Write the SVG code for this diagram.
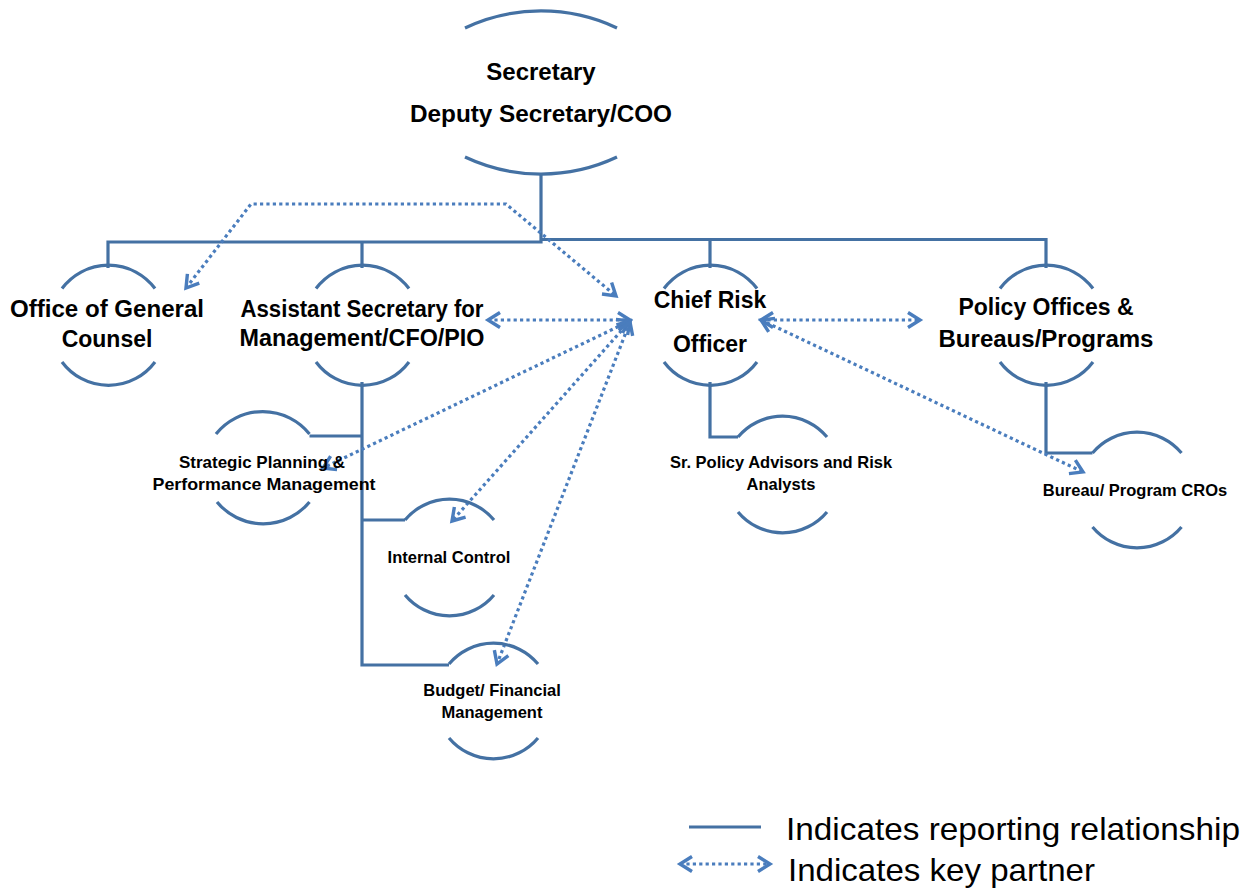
<svg xmlns="http://www.w3.org/2000/svg" width="1247" height="892" viewBox="0 0 1247 892">
<style>
.arc{fill:none;stroke:#4471a3;stroke-width:3.2}
.rep{fill:none;stroke:#4471a3;stroke-width:3.2;stroke-linejoin:miter}
.kp{fill:none;stroke:#4a7dbd;stroke-width:3.2;stroke-dasharray:3.2 3.2;marker-start:url(#ah);marker-end:url(#ah)}
.t1{font-family:"Liberation Sans",Arial,sans-serif;font-weight:bold;font-size:23px;fill:#000;text-anchor:middle}
.t0{font-family:"Liberation Sans",Arial,sans-serif;font-weight:bold;font-size:24px;fill:#000;text-anchor:middle}
.t2{font-family:"Liberation Sans",Arial,sans-serif;font-weight:bold;font-size:16.5px;fill:#000;text-anchor:middle}
.lg{font-family:"Liberation Sans",Arial,sans-serif;font-size:32px;fill:#000}
</style>
<defs>
<marker id="ah" markerUnits="userSpaceOnUse" viewBox="-16 -10 18 20" markerWidth="18" markerHeight="20" refX="0" refY="0" orient="auto-start-reverse" overflow="visible">
<path d="M-12,-7.5 L0,0 L-12,7.5" fill="none" stroke="#4a7dbd" stroke-width="3.4" stroke-dasharray="none"/>
</marker>
</defs>
<rect width="1247" height="892" fill="#fff"/>

<g id="connectors">
<path class="rep" d="M108,268 V242 H541 V175"/>
<path class="rep" d="M362,242 V268"/>
<path class="rep" d="M541,239.5 H1046 V268"/>
<path class="rep" d="M710,239.5 V268"/>
<path class="rep" d="M362,382 V665 H449"/>
<path class="rep" d="M362,436 H309.5"/>
<path class="rep" d="M362,520 H405"/>
<path class="rep" d="M710,382 V437 H738"/>
<path class="rep" d="M1046,382 V453 H1092.5"/>
<path class="kp" d="M186,288 L251,204 H506 L616,296"/>
<path class="kp" d="M488,320 H630"/>
<path class="kp" d="M630,321 L323,468"/>
<path class="kp" d="M630,321 L452,521"/>
<path class="kp" d="M630,322 L497,664"/>
<path class="kp" d="M761,320 H920"/>
<path class="kp" d="M761,320 L1083,472"/>
</g>

<g id="secretary">
<path class="arc" d="M465,28 A178,178 0 0 1 617,28"/>
<path class="arc" d="M465,157 A178,178 0 0 0 617,157"/>
<text class="t0" x="541" y="80">Secretary</text>
<text class="t0" x="541" y="122" textLength="262" lengthAdjust="spacingAndGlyphs">Deputy Secretary/COO</text>
</g>

<g id="ogc">
<path class="arc" d="M62,288.5 A58,58 0 0 1 155,288.5"/>
<path class="arc" d="M62,362 A58,58 0 0 0 155,362"/>
<text class="t1" x="107" y="317" textLength="194" lengthAdjust="spacingAndGlyphs">Office of General</text>
<text class="t1" x="107" y="347">Counsel</text>
</g>

<g id="asst">
<path class="arc" d="M316,288.5 A58,58 0 0 1 409,288.5"/>
<path class="arc" d="M316,362 A58,58 0 0 0 409,362"/>
<text class="t1" x="362" y="317" textLength="243" lengthAdjust="spacingAndGlyphs">Assistant Secretary for</text>
<text class="t1" x="362" y="346" textLength="245" lengthAdjust="spacingAndGlyphs">Management/CFO/PIO</text>
</g>

<g id="cro">
<path class="arc" d="M664,288.5 A58,58 0 0 1 757,288.5"/>
<path class="arc" d="M664,362 A58,58 0 0 0 757,362"/>
<text class="t1" x="710" y="308">Chief Risk</text>
<text class="t1" x="710" y="352">Officer</text>
</g>

<g id="policy">
<path class="arc" d="M1000,288.5 A58,58 0 0 1 1093,288.5"/>
<path class="arc" d="M1000,362 A58,58 0 0 0 1093,362"/>
<text class="t1" x="1046" y="315">Policy Offices &amp;</text>
<text class="t1" x="1046" y="347" textLength="215" lengthAdjust="spacingAndGlyphs">Bureaus/Programs</text>
</g>

<g id="strategic">
<path class="arc" d="M216,434 A60,60 0 0 1 309.5,434"/>
<path class="arc" d="M217,502 A60,60 0 0 0 309.5,502"/>
<text class="t2" x="262" y="468" textLength="166" lengthAdjust="spacingAndGlyphs">Strategic Planning &amp;</text>
<text class="t2" x="264" y="490" textLength="223" lengthAdjust="spacingAndGlyphs">Performance Management</text>
</g>

<g id="internal">
<path class="arc" d="M405,520 A58,58 0 0 1 494,520"/>
<path class="arc" d="M405,595 A58,58 0 0 0 494,595"/>
<text class="t2" x="449" y="563">Internal Control</text>
</g>

<g id="budget">
<path class="arc" d="M449,664 A58,58 0 0 1 538,664"/>
<path class="arc" d="M449,738 A58,58 0 0 0 538,738"/>
<text class="t2" x="492" y="696">Budget/ Financial</text>
<text class="t2" x="492" y="718">Management</text>
</g>

<g id="srpolicy">
<path class="arc" d="M738,437 A58,58 0 0 1 827,437"/>
<path class="arc" d="M738,512 A58,58 0 0 0 827,512"/>
<text class="t2" x="781" y="468">Sr. Policy Advisors and Risk</text>
<text class="t2" x="781" y="490">Analysts</text>
</g>

<g id="bureau">
<path class="arc" d="M1092.5,453 A58,58 0 0 1 1181.5,453"/>
<path class="arc" d="M1092.5,527 A58,58 0 0 0 1181.5,527"/>
<text class="t2" x="1135" y="496">Bureau/ Program CROs</text>
</g>

<g id="legend">
<path class="rep" d="M689,827 H761" stroke-width="4"/>
<text class="lg" x="786" y="840" textLength="454" lengthAdjust="spacingAndGlyphs">Indicates reporting relationship</text>
<path class="kp" d="M680,864 H770"/>
<text class="lg" x="788" y="881" textLength="307" lengthAdjust="spacingAndGlyphs">Indicates key partner</text>
</g>
</svg>
